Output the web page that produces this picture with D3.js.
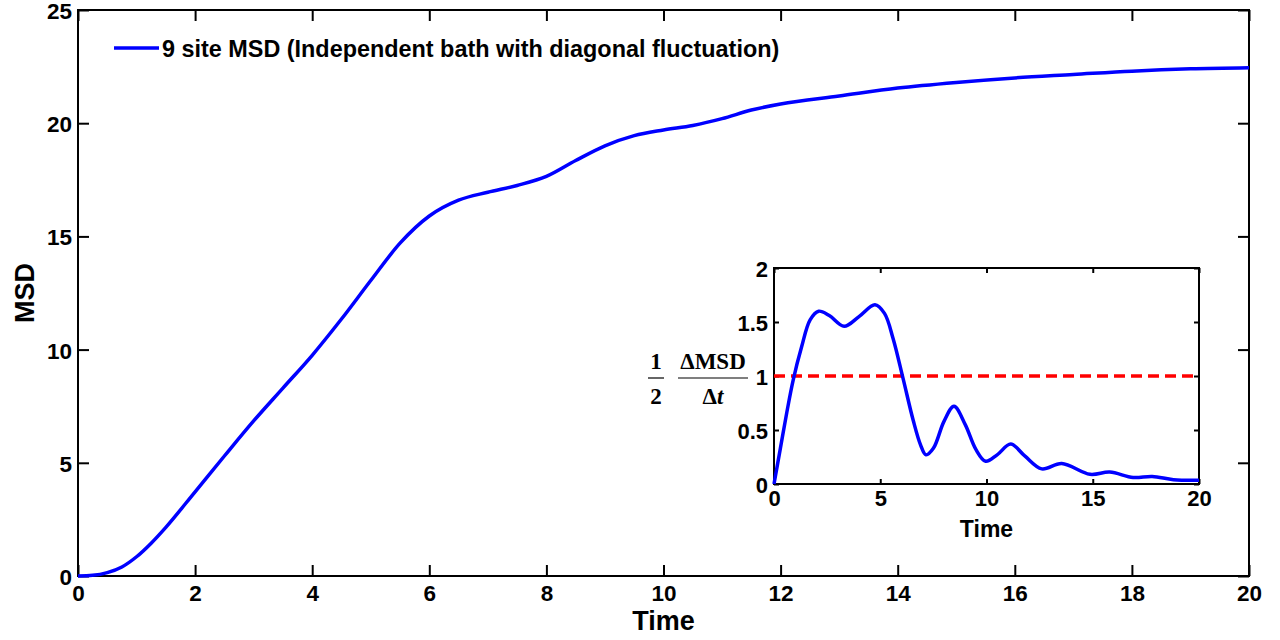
<!DOCTYPE html>
<html>
<head>
<meta charset="utf-8">
<script src="https://cdn.jsdelivr.net/npm/d3@7"></script>
<style>
  body { margin: 0; background: #fff; }
  text { font-family: "Liberation Sans", Arial, sans-serif; font-weight: bold; fill: #000; }
</style>
</head>
<body>
<div id="chart"></div>
<script>
// main curve: MSD vs time
const time_main = [0, 0.25, 0.5, 0.75, 1, 1.25, 1.5, 2, 2.5, 3, 3.5, 4, 4.5, 5, 5.5, 6, 6.5, 7, 7.5, 8, 8.5, 9, 9.5, 10, 10.5, 11, 11.5, 12, 13, 14, 15, 16, 17, 18, 19, 20];
const msd_main = [0, 0.03, 0.15, 0.4, 0.85, 1.45, 2.15, 3.72, 5.3, 6.85, 8.3, 9.75, 11.35, 13.05, 14.7, 15.9, 16.6, 16.95, 17.25, 17.65, 18.35, 19.0, 19.45, 19.7, 19.9, 20.2, 20.58, 20.85, 21.2, 21.55, 21.8, 22.0, 22.15, 22.3, 22.4, 22.45];

// inset curve: 1/2 dMSD/dt
const time_inset = [0, 0.3, 0.6, 0.9, 1.3, 1.7, 2.1, 2.6, 3.3, 4.0, 4.75, 5.2, 5.6, 6.07, 6.55, 6.9, 7.15, 7.5, 8.0, 8.47, 9.0, 9.5, 9.96, 10.5, 11.14, 11.8, 12.6, 13.54, 14.87, 15.8, 16.9, 17.8, 18.8, 20];
const rate_inset = [0, 0.33, 0.66, 0.96, 1.27, 1.52, 1.6, 1.56, 1.46, 1.55, 1.66, 1.58, 1.35, 0.98, 0.59, 0.36, 0.27, 0.33, 0.58, 0.72, 0.55, 0.32, 0.21, 0.27, 0.37, 0.26, 0.14, 0.19, 0.09, 0.11, 0.06, 0.07, 0.04, 0.035];
const ref_level = [1];

const x_ticks_main = [0, 2, 4, 6, 8, 10, 12, 14, 16, 18, 20];
const y_ticks_main = [0, 5, 10, 15, 20, 25];
const x_ticks_inset = [0, 5, 10, 15, 20];
const y_ticks_inset = [0, 0.5, 1, 1.5, 2];
const legend_label = "9 site MSD (Independent bath with diagonal fluctuation)";

const width = 1280, height = 640;

const svg = d3.select("#chart")
   .append("svg")
   .attr("width", width)
   .attr("height", height);

var x_main = d3.scaleLinear().domain([0, 20]).range([78, 1249]);
var y_main = d3.scaleLinear().domain([0, 25]).range([576, 10]);

var x_inset = d3.scaleLinear().domain([0, 20]).range([774, 1199]);
var y_inset = d3.scaleLinear().domain([0, 2]).range([484, 268]);

function draw_frame(x, y, xt, yt, tick_len, font_size, pad_x, pad_y) {
	var x0 = x.range()[0], x1 = x.range()[1];
	var y0 = y.range()[0], y1 = y.range()[1];

	var bottom = svg.append("g")
				.attr("transform", "translate(0," + y0 + ")")
				.call(d3.axisBottom(x).tickValues(xt).tickSize(-tick_len).tickPadding(pad_x).tickFormat(d3.format("")));
	var top = svg.append("g")
				.attr("transform", "translate(0," + y1 + ")")
				.call(d3.axisTop(x).tickValues(xt).tickSize(-tick_len).tickFormat(""));
	var left = svg.append("g")
				.attr("transform", "translate(" + x0 + ",0)")
				.call(d3.axisLeft(y).tickValues(yt).tickSize(-tick_len).tickPadding(pad_y).tickFormat(d3.format("")));
	var right = svg.append("g")
				.attr("transform", "translate(" + x1 + ",0)")
				.call(d3.axisRight(y).tickValues(yt).tickSize(-tick_len).tickFormat(""));

	[bottom, top, left, right].forEach(function(g){
		g.select(".domain").remove();
		g.selectAll(".tick line").attr("stroke", "#000").attr("stroke-width", 2);
		g.selectAll("text").style("font-size", font_size + "px").attr("fill", "#000");
	});
	left.selectAll("text").attr("dy", "0.38em");

	svg.append("rect")
			.attr("x", x0)
			.attr("y", y1)
			.attr("width", x1 - x0)
			.attr("height", y0 - y1)
			.attr("fill", "none")
			.attr("stroke", "#000")
			.attr("stroke-width", 2);
}

// main plot
draw_frame(x_main, y_main, x_ticks_main, y_ticks_main, 11, 22.5, 9, 6);

var line_main = d3.line()
			.x(function(d, i){ return x_main(time_main[i]); })
			.y(function(d){ return y_main(d); })
			.curve(d3.curveMonotoneX);

svg.append("path")
	.attr("d", line_main(msd_main))
	.attr("fill", "none")
	.attr("stroke", "#0000ff")
	.attr("stroke-width", 3.5);

svg.append("text")
	.attr("x", (x_main(0) + x_main(20)) / 2)
	.attr("y", 630)
	.attr("text-anchor", "middle")
	.style("font-size", "27px")
	.text("Time");

svg.append("text")
	.attr("transform", "translate(34," + y_main(12.5) + ") rotate(-90)")
	.attr("text-anchor", "middle")
	.style("font-size", "27px")
	.text("MSD");

// legend
svg.append("line")
	.attr("x1", 114).attr("x2", 159)
	.attr("y1", 48).attr("y2", 48)
	.attr("stroke", "#0000ff")
	.attr("stroke-width", 3.5);

svg.append("text")
	.attr("x", 162)
	.attr("y", 57)
	.style("font-size", "23.4px")
	.text(legend_label);

// inset
svg.append("rect")
	.attr("x", x_inset(0))
	.attr("y", y_inset(2))
	.attr("width", x_inset(20) - x_inset(0))
	.attr("height", y_inset(0) - y_inset(2))
	.attr("fill", "#fff");

draw_frame(x_inset, y_inset, x_ticks_inset, y_ticks_inset, 5, 22, 6, 6);

svg.append("g")
	.selectAll("line")
	.data(ref_level)
	.join("line")
	.attr("x1", x_inset(0))
	.attr("x2", x_inset(20))
	.attr("y1", function(d){ return y_inset(d); })
	.attr("y2", function(d){ return y_inset(d); })
	.attr("stroke", "#ff0000")
	.attr("stroke-width", 3.5)
	.attr("stroke-dasharray", "11,6");

var line_inset = d3.line()
			.x(function(d, i){ return x_inset(time_inset[i]); })
			.y(function(d){ return y_inset(d); })
			.curve(d3.curveCatmullRom.alpha(0.5));

svg.append("path")
	.attr("d", line_inset(rate_inset))
	.attr("fill", "none")
	.attr("stroke", "#0000ff")
	.attr("stroke-width", 3.5);

svg.append("text")
	.attr("x", (x_inset(0) + x_inset(20)) / 2)
	.attr("y", 537)
	.attr("text-anchor", "middle")
	.style("font-size", "23px")
	.text("Time");

// inset y label: 1/2 * dMSD/dt
var frac = svg.append("g")
	.style("font-family", "'Liberation Serif', 'Times New Roman', serif")
	.style("font-weight", "bold");

frac.append("text").attr("x", 656).attr("y", 369).attr("text-anchor", "middle")
	.style("font-family", "inherit").style("font-size", "23px").text("1");
frac.append("line").attr("x1", 648).attr("x2", 664).attr("y1", 378).attr("y2", 378)
	.attr("stroke", "#000").attr("stroke-width", 1.2);
frac.append("text").attr("x", 656).attr("y", 404).attr("text-anchor", "middle")
	.style("font-family", "inherit").style("font-size", "23px").text("2");

frac.append("text").attr("x", 713).attr("y", 369).attr("text-anchor", "middle")
	.style("font-family", "inherit").style("font-size", "23px").text("\u0394MSD");
frac.append("line").attr("x1", 678).attr("x2", 748).attr("y1", 378).attr("y2", 378)
	.attr("stroke", "#000").attr("stroke-width", 1.2);
var den = frac.append("text").attr("x", 713).attr("y", 404).attr("text-anchor", "middle")
	.style("font-family", "inherit").style("font-size", "23px");
den.append("tspan").text("\u0394");
den.append("tspan").style("font-style", "italic").text("t");
</script>
</body>
</html>
